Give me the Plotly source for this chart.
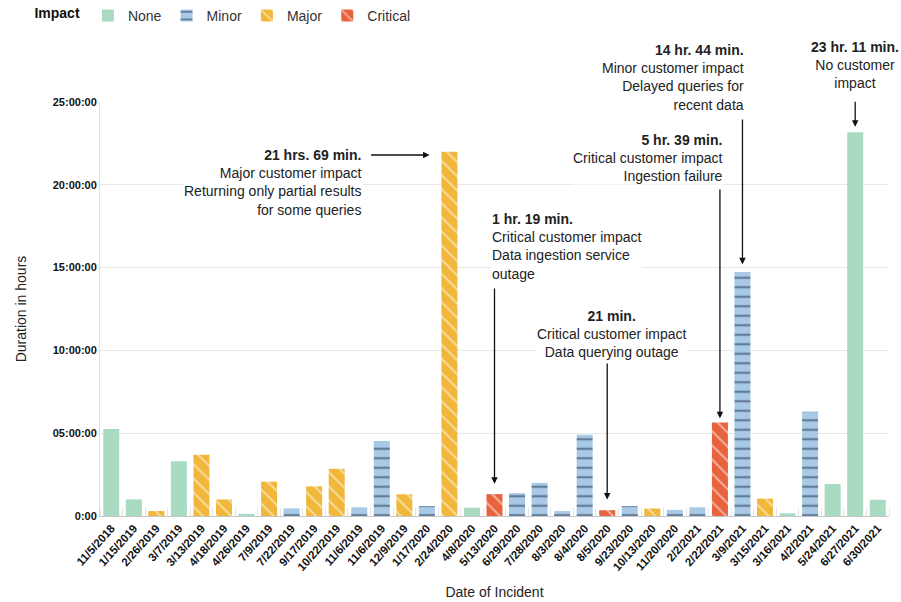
import plotly.graph_objects as go

dates = ["11/5/2018", "1/15/2019", "2/26/2019", "3/7/2019", "3/13/2019", "4/18/2019",
         "4/26/2019", "7/9/2019", "7/22/2019", "9/17/2019", "10/22/2019", "11/6/2019",
         "11/6/2019", "12/9/2019", "1/17/2020", "2/24/2020", "4/8/2020", "5/13/2020",
         "6/29/2020", "7/28/2020", "8/3/2020", "8/4/2020", "8/5/2020", "9/23/2020",
         "10/13/2020", "11/20/2020", "2/2/2021", "2/22/2021", "3/9/2021", "3/15/2021",
         "3/16/2021", "4/2/2021", "5/24/2021", "6/27/2021", "6/30/2021"]
hours = [5.25, 1.0, 0.3, 3.3, 3.7, 1.0,
         0.13, 2.07, 0.46, 1.79, 2.85, 0.52,
         4.53, 1.31, 0.6, 22.0, 0.5, 1.32,
         1.38, 2.0, 0.3, 4.91, 0.35, 0.6,
         0.45, 0.37, 0.52, 5.65, 14.73, 1.05,
         0.16, 6.3, 1.93, 23.18, 0.98]
impact = ["None", "None", "Major", "None", "Major", "Major",
          "None", "Major", "Minor", "Major", "Major", "Minor",
          "Minor", "Major", "Minor", "Major", "None", "Critical",
          "Minor", "Minor", "Minor", "Minor", "Critical", "Minor",
          "Major", "Minor", "Minor", "Critical", "Minor", "Major",
          "None", "Minor", "None", "None", "None"]
impact_levels = ["None", "Minor", "Major", "Critical"]
ytick_vals = [0, 5, 10, 15, 20, 25]
ytick_text = ["0:00", "05:00:00", "10:00:00", "15:00:00", "20:00:00", "25:00:00"]
Y_MAX = 25

styles = {
    "None": dict(color="#a8dbc1", pattern=dict(shape="")),
    "Minor": dict(color="#a9cae7", pattern=dict(shape="-", fgcolor="#1d2f48", size=9.5, solidity=0.24)),
    "Major": dict(color="#f1b73b", pattern=dict(shape="\\", fgcolor="#ffffff", size=10, solidity=0.2)),
    "Critical": dict(color="#e8623d", pattern=dict(shape="\\", fgcolor="#ffffff", size=10, solidity=0.2)),
}

FONT = "Liberation Sans, Arial, sans-serif"
fig = go.Figure()
idx = list(range(len(dates)))
for lvl in impact_levels:
    xs = [i for i in idx if impact[i] == lvl]
    ys = [hours[i] for i in idx if impact[i] == lvl]
    st = styles[lvl]
    fig.add_trace(go.Bar(
        x=xs, y=ys, name=lvl, width=0.71,
        marker=dict(color=st["color"], line=dict(width=0), pattern=st["pattern"]),
        hovertemplate="%{y:.2f} h<extra>" + lvl + "</extra>",
    ))

notes = [
    # text, x, y (hours), xanchor, align
    ("<b>21 hrs. 69 min.</b><br>Major customer impact<br>Returning only partial results<br>for some queries", 11.15, 20.14, "right", "right"),
    ("<b>1 hr. 19 min.</b><br>Critical customer impact<br>Data ingestion service<br>outage", 16.83, 16.3, "left", "left"),
    ("<b>21 min.</b><br>Critical customer impact<br>Data querying outage", 22.19, 10.99, "center", "center"),
    ("<b>14 hr. 44 min.</b><br>Minor customer impact<br>Delayed queries for<br>recent data", 28.13, 26.45, "right", "right"),
    ("<b>5 hr. 39 min.</b><br>Critical customer impact<br>Ingestion failure", 27.16, 21.59, "right", "right"),
    ("<b>23 hr. 11 min.</b><br>No customer<br>impact", 33.0, 27.23, "center", "center"),
]
for t, x, y, xa, al in notes:
    fig.add_annotation(x=x, y=y / Y_MAX, xref="x", yref="y domain", text=t, showarrow=False,
                       xanchor=xa, yanchor="middle", align=al, bgcolor="white", borderpad=0,
                       font=dict(family=FONT, size=14, color="#222222"))

arrows = [
    # head x, head y, tail x, tail y
    (14.12, 21.8, 11.46, 21.8),
    (17, 1.95, 17, 13.83),
    (22, 1.0, 22, 9.3),
    (28, 15.2, 28, 24.03),
    (27, 5.9, 27, 19.8),
    (33, 23.5, 33, 25.1),
]
for hx, hy, tx, ty in arrows:
    fig.add_annotation(x=hx, y=hy, ax=tx, ay=ty, xref="x", yref="y", axref="x", ayref="y",
                       text="", showarrow=True, arrowhead=2, arrowsize=1, arrowwidth=1.3,
                       arrowcolor="#111111", standoff=0, startstandoff=0)

fig.update_layout(
    width=901, height=602,
    margin=dict(l=100, r=12, t=102, b=86),
    paper_bgcolor="white", plot_bgcolor="white",
    barmode="overlay",
    font=dict(family=FONT, size=13, color="#222222"),
    showlegend=True,
    legend=dict(orientation="h", x=0.036, y=1.0, xref="container", yref="container",
                xanchor="left", yanchor="top",
                title=dict(text="<b>Impact</b>", font=dict(size=14, color="#111111")),
                font=dict(size=14, color="#333333"), itemwidth=30,
                traceorder="normal"),
    xaxis=dict(
        range=[-0.5, 34.5], tickmode="array", tickvals=idx,
        ticktext=["<b>" + d + "</b>" for d in dates],
        tickangle=-48, tickfont=dict(size=11.5, color="#111111", family=FONT),
        showgrid=False, zeroline=False, showline=True, linecolor="#c8c8c8", linewidth=1,
        ticks="", automargin=False,
        minor=dict(tick0=-0.5, dtick=1, ticks="inside", ticklen=8, tickcolor="#e4e4e4", showgrid=False),
        title=dict(text="Date of Incident", font=dict(size=14, color="#222222"), standoff=15),
    ),
    yaxis=dict(
        range=[0, Y_MAX], tickmode="array", tickvals=ytick_vals,
        ticktext=["<b>" + t + "</b>" for t in ytick_text],
        tickfont=dict(size=11, color="#111111", family=FONT),
        showgrid=True, gridcolor="#e8e8e8", gridwidth=1, zeroline=False,
        showline=True, linecolor="#e0e0e0", ticks="", automargin=False,
        title=dict(text="Duration in hours", font=dict(size=14, color="#222222"), standoff=22),
    ),
)

fig.write_html("out.html")
